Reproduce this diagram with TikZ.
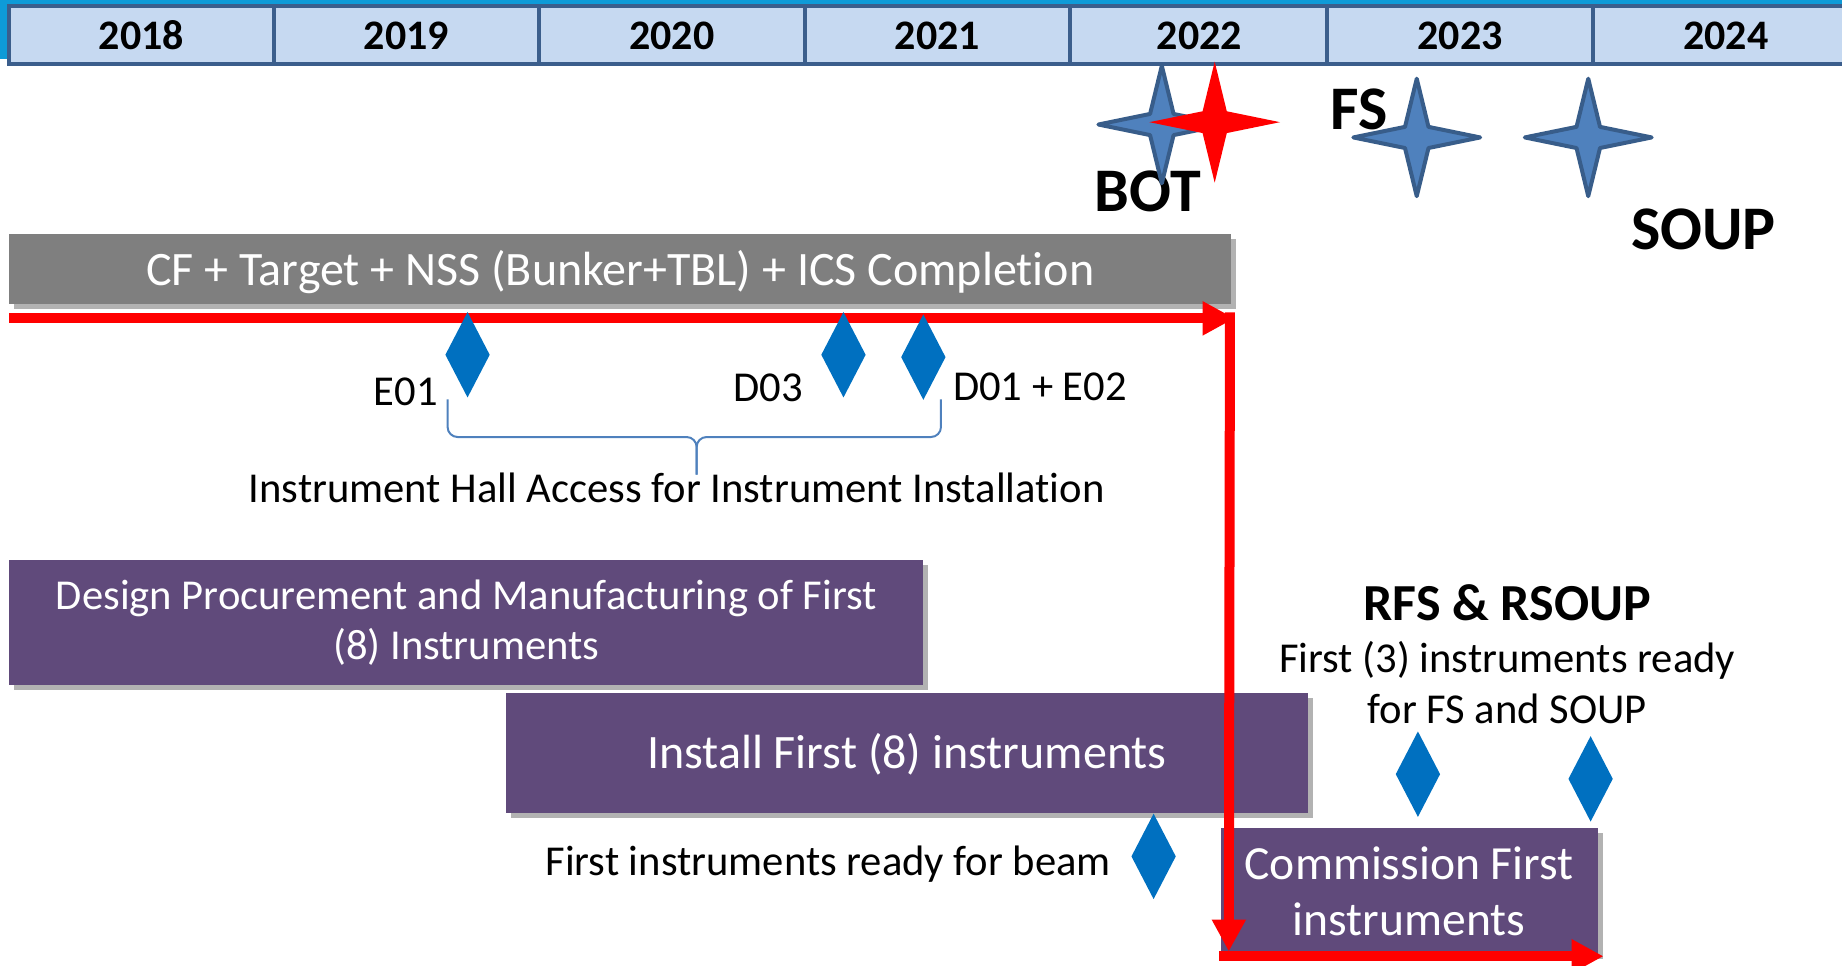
\documentclass[tikz,border=0pt]{standalone}
\usepackage{fontspec}
\setmainfont{Carlito}[Ligatures=NoCommon]
\usetikzlibrary{arrows.meta}
\usetikzlibrary{shapes.geometric}
\usetikzlibrary{shadows}

\definecolor{yearFill}{HTML}{C6D9F1}
\definecolor{yearLine}{HTML}{3B5E8C}
\definecolor{stripBlue}{HTML}{0E9BD8}
\definecolor{barGray}{HTML}{7F7F7F}
\definecolor{taskPurple}{HTML}{604A7B}
\definecolor{mileBlue}{HTML}{0070C0}
\definecolor{starBlue}{HTML}{4F81BD}
\definecolor{starLine}{HTML}{385D8A}

\newcommand{\pxu}{0.5874pt}

\tikzset{
  yearcell/.style={draw=yearLine, line width=2pt, fill=yearFill},
  yearlabel/.style={anchor=base, inner sep=0pt, font=\fontsize{21}{25}\selectfont\bfseries},
  biglabel/.style={anchor=base, inner sep=0pt, font=\fontsize{31}{37}\selectfont\bfseries},
  note/.style={anchor=base, inner sep=0pt, font=\fontsize{21.3}{25.3}\selectfont},
  barbox/.style={fill=barGray, text=white, inner sep=0pt,
    drop shadow={shadow xshift=2.5pt, shadow yshift=-2.5pt, opacity=0.3, fill=black}},
  taskbox/.style={fill=taskPurple, text=white, align=center, inner sep=0pt,
    drop shadow={shadow xshift=2.5pt, shadow yshift=-2.5pt, opacity=0.3, fill=black}},
  milestone/.style={diamond, fill=mileBlue, inner sep=0pt,
    minimum width=38*\pxu, minimum height=73*\pxu},
  redpath/.style={draw=red, line width=5pt, -{Triangle[length=16pt,width=16pt]}},
  bluestar/.style={fill=starBlue, draw=starLine, line width=2pt, line join=round},
  redstar/.style={fill=red},
  fourstar/.pic={
    \path[pic actions] (0,-50) -- (10,-9) -- (54,0) -- (10,9) -- (0,50)
      -- (-10,9) -- (-54,0) -- (-10,-9) -- cycle;
  }
}

\begin{document}
\begin{tikzpicture}[x=0.5874pt, y=-0.5874pt]

	\useasboundingbox (0,0) rectangle (1568,822);

% Draw timeline.

	\fill[stripBlue] (0,0) rectangle (1568,50);

	\draw[yearcell] (8,5.5) rectangle (233,54.3);
	\draw[yearcell] (233,5.5) rectangle (459,54.3);
	\draw[yearcell] (459,5.5) rectangle (685,54.3);
	\draw[yearcell] (685,5.5) rectangle (911,54.3);
	\draw[yearcell] (911,5.5) rectangle (1130,54.3);
	\draw[yearcell] (1130,5.5) rectangle (1356,54.3);
	\draw[yearcell] (1356,5.5) rectangle (1590,54.3);

	\node[yearlabel] (y2018) at (120.5,42) {2018};
	\node[yearlabel] (y2019) at (346,42) {2019};
	\node[yearlabel] (y2020) at (572,42) {2020};
	\node[yearlabel] (y2021) at (798,42) {2021};
	\node[yearlabel] (y2022) at (1021,42) {2022};
	\node[yearlabel] (y2023) at (1243,42) {2023};
	\node[yearlabel] (y2024) at (1469,42) {2024};

% Draw stars.

	\node[biglabel] (bot) at (977,180) {BOT};
	\node[biglabel] (fs) at (1157,110) {FS};
	\node[biglabel] (soup) at (1450,212) {SOUP};

	\pic[bluestar] at (989,106) {fourstar};
	\pic[redstar, scale=1.03] at (1034,104) {fourstar};
	\pic[bluestar] at (1206,117) {fourstar};
	\pic[bluestar] at (1352,117) {fourstar};

% Draw bars.

	\node[barbox, minimum width=1040*\pxu, minimum height=60*\pxu,
	  font=\fontsize{24}{29}\selectfont, text height=20pt, text depth=4pt] (civil) at (528,229)
	  {CF + Target + NSS (Bunker+TBL) + ICS Completion};

	\node[taskbox, minimum width=778*\pxu, minimum height=107*\pxu,
	  font=\fontsize{21.3}{25.3}\selectfont] (design) at (397,530)
	  {Design Procurement and Manufacturing of First\\(8) Instruments};

	\node[taskbox, minimum width=682*\pxu, minimum height=102*\pxu,
	  font=\fontsize{24}{29}\selectfont, text height=19.6pt, text depth=4pt] (install) at (772,641)
	  {Install First (8) instruments};

	\node[taskbox, minimum width=321*\pxu, minimum height=107*\pxu,
	  font=\fontsize{23.8}{28.2}\selectfont] (commission) at (1199.5,758.5)
	  {Commission First\\instruments};

% Draw critical path.

	\coordinate (lineStart) at (8,271);
	\coordinate (lineEnd) at (1051,271);
	\coordinate (dropTop) at (1047,266);
	\coordinate (dropEnd) at (1046,810);
	\coordinate (runStart) at (1038,814);
	\coordinate (runEnd) at (1365,814);

	\draw[redpath] (lineStart) -- (lineEnd);
	\draw[redpath] (dropTop) -- (dropEnd);
	\draw[redpath] (runStart) -- (runEnd);

% Draw milestones.

	\node[milestone] (e01) at (398,302) {};
	\node[milestone] (d03) at (718,302) {};
	\node[milestone] (d01) at (786,304) {};
	\node[milestone] (beam) at (982,729) {};
	\node[milestone] (rfs) at (1207,659) {};
	\node[milestone] (rsoup) at (1354,663) {};

	\node[note, anchor=base east] (e01label) at (373,345) {E01};
	\node[note] (d03label) at (654,342) {D03};
	\node[note, anchor=base west] (d01label) at (811,341) {D01 + E02};

% Draw hall access brace.

	\coordinate (braceLeft) at (381,340);
	\coordinate (braceRight) at (801,340);
	\coordinate (braceTip) at (593,404);

	\draw[starBlue, line width=1pt, rounded corners=5pt]
	  (braceLeft) -- (381,372) -- (593,372) -- (braceTip);
	\draw[starBlue, line width=1pt, rounded corners=5pt]
	  (braceRight) -- (801,372) -- (593,372) -- (braceTip);

	\node[note] (access) at (576,428) {Instrument Hall Access for Instrument Installation};

% Draw notes.

	\node[note] (beamlabel) at (705,745) {First instruments ready for beam};

	\node[biglabel, font=\fontsize{26}{31}\selectfont\bfseries] (rfslabel) at (1283,528) {RFS \& RSOUP};
	\node[note, anchor=center, align=center] (readylabel) at (1283,581)
	  {First (3) instruments ready\\for FS and SOUP};

\end{tikzpicture}
\end{document}
